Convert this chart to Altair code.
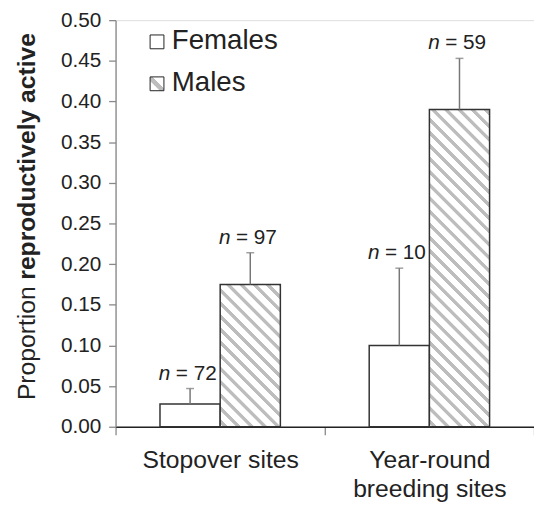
import altair as alt
import pandas as pd

# ---- data ----
sites = ["Stopover sites", "Stopover sites",
         "Year-round breeding sites", "Year-round breeding sites"]
sexes = ["Females", "Males", "Females", "Males"]
values = [0.028, 0.175, 0.100, 0.390]
errors = [0.019, 0.039, 0.095, 0.063]
ns = [72, 97, 10, 59]
site_order = ["Stopover sites", "Year-round breeding sites"]
sex_order = ["Females", "Males"]
y_ticks = [0.00, 0.05, 0.10, 0.15, 0.20, 0.25, 0.30, 0.35, 0.40, 0.45, 0.50]
y_title_plain = "Proportion"
y_title_bold = "reproductively active"

df = pd.DataFrame({"site": sites, "sex": sexes, "value": values,
                   "err": errors, "n": ns})
one = pd.DataFrame({"k": [0]})

# ---- layout / style ----
W, H = 424, 412
YMAX = 0.5
OUTER = 0.738
BAR_W = (W / 2) / (2 + 2 * OUTER)
FONT = "Liberation Sans"
TXT = "#222222"
HATCH = "#bdbdbd"


def hatch(w, h, period=13.3, gray=5.5, start=3.0):
    L = w + h
    t = L / (w * w + h * h)
    e = 0.6 / L
    stops = [alt.GradientStop(offset=0, color="white")]
    u = start
    while u < L:
        a = u / L
        b = min((u + gray) / L, 1.0)
        a2 = min(a + e, b)
        b2 = max(b - e, a2)
        stops.append(alt.GradientStop(offset=a, color="white"))
        stops.append(alt.GradientStop(offset=a2, color=HATCH))
        stops.append(alt.GradientStop(offset=b2, color=HATCH))
        stops.append(alt.GradientStop(offset=b, color="white"))
        u += period
    return alt.LinearGradient(gradient="linear", x1=0, y1=1,
                              x2=t * w, y2=1 - t * h, stops=stops)


x_enc = alt.X("site:N", sort=site_order,
              scale=alt.Scale(domain=site_order, paddingInner=0, paddingOuter=0),
              axis=alt.Axis(title=None, labelAngle=0, labelFont=FONT,
                            labelFontSize=25, labelColor=TXT, labelLineHeight=30,
                            labelPadding=13, tickSize=8, tickColor="#888888",
                            tickWidth=1.3, tickBand="extent",
                            domainColor="#222222", domainWidth=1.5,
                            labelExpr="datum.label == 'Year-round breeding sites' ? ['Year-round', 'breeding sites'] : datum.label"))
xo_enc = alt.XOffset("sex:N", sort=sex_order,
                     scale=alt.Scale(domain=sex_order, paddingInner=0,
                                     paddingOuter=OUTER))
y_scale = alt.Scale(domain=[0, YMAX], nice=False)
y_axis = alt.Axis(title=None, values=y_ticks, format=".2f", grid=False,
                  labelFont=FONT, labelFontSize=21, labelColor=TXT,
                  labelPadding=8, tickSize=7, tickColor="#888888",
                  tickWidth=1.3, domainColor="#888888", domainWidth=1.3)

base = alt.Chart(df).transform_calculate(upper="datum.value + datum.err")

bars_f = base.transform_filter("datum.sex == 'Females'").mark_bar(
    fill="white", stroke="#333333", strokeWidth=1.5
).encode(x=x_enc, xOffset=xo_enc,
         y=alt.Y("value:Q", scale=y_scale, axis=y_axis))

male_layers = []
for s, v, sx in zip(sites, values, sexes):
    if sx != "Males":
        continue
    h = v / YMAX * H
    male_layers.append(
        base.transform_filter(f"datum.sex == 'Males' && datum.site == '{s}'")
        .mark_bar(fill=hatch(BAR_W, h), stroke="#333333", strokeWidth=1.5)
        .encode(x=x_enc, xOffset=xo_enc,
                y=alt.Y("value:Q", scale=y_scale, axis=y_axis))
    )

err_rule = base.mark_rule(color="#777777", strokeWidth=1.5).encode(
    x=x_enc, xOffset=xo_enc,
    y=alt.Y("value:Q", scale=y_scale, axis=y_axis), y2="upper:Q")
err_cap = base.mark_tick(color="#777777", thickness=1.5, size=8,
                         orient="horizontal").encode(
    x=x_enc, xOffset=xo_enc, y=alt.Y("upper:Q", scale=y_scale, axis=y_axis))

n_it = base.mark_text(text="n", font=FONT, fontSize=21, fontStyle="italic",
                      color=TXT, align="right", baseline="alphabetic",
                      dx=-20, dy=-9).encode(
    x=x_enc, xOffset=xo_enc, y=alt.Y("upper:Q", scale=y_scale, axis=y_axis))
n_val = base.transform_calculate(lab="'= ' + datum.n").mark_text(
    font=FONT, fontSize=21, color=TXT, align="left", baseline="alphabetic",
    dx=-14.5, dy=-9).encode(
    x=x_enc, xOffset=xo_enc, y=alt.Y("upper:Q", scale=y_scale, axis=y_axis),
    text="lab:N")

# legend
leg = alt.Chart(one)
leg_f = leg.mark_square(size=196, fill="white", stroke="#222222",
                        strokeWidth=1, opacity=1).encode(
    x=alt.value(42), y=alt.value(22))
leg_m = leg.mark_square(size=196, fill=hatch(14, 14, period=40, gray=7, start=9.5),
                        stroke="#222222", strokeWidth=1, opacity=1).encode(
    x=alt.value(42), y=alt.value(64.5))
leg_ft = leg.mark_text(text=sex_order[0], font=FONT, fontSize=28, color=TXT,
                       align="left", baseline="middle").encode(
    x=alt.value(57), y=alt.value(21))
leg_mt = leg.mark_text(text=sex_order[1], font=FONT, fontSize=28, color=TXT,
                       align="left", baseline="middle").encode(
    x=alt.value(57), y=alt.value(63.5))

# y title (two styles)
yt1 = leg.mark_text(text=y_title_plain, font=FONT, fontSize=25, color=TXT,
                    angle=270, align="left", baseline="middle").encode(
    x=alt.value(-90), y=alt.value(385))
yt2 = leg.mark_text(text=y_title_bold, font=FONT, fontSize=25, color=TXT,
                    fontWeight="bold", angle=270, align="left",
                    baseline="middle").encode(
    x=alt.value(-90), y=alt.value(263))

chart = alt.layer(bars_f, *male_layers, err_rule, err_cap, n_it, n_val,
                  leg_f, leg_m, leg_ft, leg_mt, yt1, yt2).properties(
    width=W, height=H, autosize="none",
    padding={"left": 109, "top": 9, "right": 0, "bottom": 78}
).configure_view(stroke=None).configure(background="white")

chart.save("out.html", embed_options={"renderer": "svg", "actions": False})
